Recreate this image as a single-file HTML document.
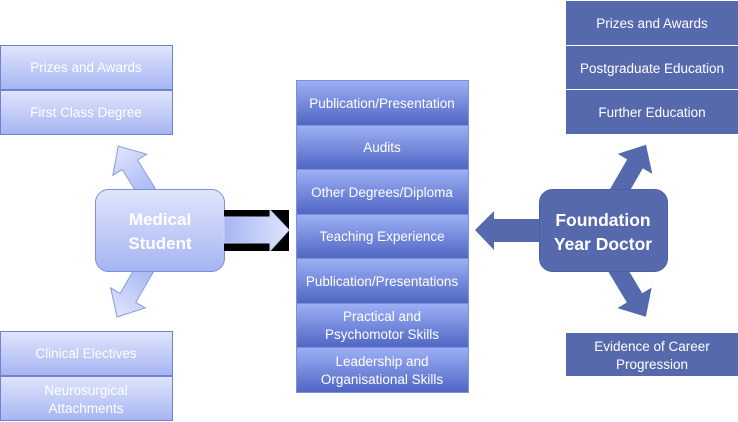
<!DOCTYPE html>
<html><head><style>
body{margin:0;background:#fff}
svg{display:block;font-family:"Liberation Sans",sans-serif}
</style></head><body>
<svg width="738" height="422" viewBox="0 0 738 422" xmlns="http://www.w3.org/2000/svg">
<defs>
<linearGradient id="lg" x1="0" y1="0" x2="0" y2="1"><stop offset="0" stop-color="#e0e5fc"/><stop offset="1" stop-color="#a6b5f3"/></linearGradient>
<linearGradient id="mg" x1="0" y1="0" x2="0" y2="1"><stop offset="0" stop-color="#9db0f6"/><stop offset="1" stop-color="#4f66c3"/></linearGradient>
<linearGradient id="ag" x1="0" y1="0" x2="1" y2="0"><stop offset="0" stop-color="#a6b5f3"/><stop offset="1" stop-color="#dfe5fc"/></linearGradient>
</defs>
<g stroke="#6f83d0" stroke-width="1" fill="url(#lg)">
<rect x="0.5" y="45.5" width="172" height="44"/>
<rect x="0.5" y="90.5" width="172" height="44"/>
<rect x="0.5" y="331.5" width="172" height="44"/>
<rect x="0.5" y="376.5" width="172" height="44"/>
</g>
<g fill="#fff" font-size="13.5" text-anchor="middle">
<text x="86" y="72">Prizes and Awards</text>
<text x="86" y="117">First Class Degree</text>
<text x="86" y="358">Clinical Electives</text>
<text x="86" y="395">Neurosurgical</text>
<text x="86" y="413">Attachments</text>
</g>
<g fill="url(#ag)" stroke="#8a9be0" stroke-width="1">
<polygon transform="translate(150,197) rotate(-122)" points="0,-9 38,-9 38,-20 60,0 38,20 38,9 0,9"/>
<polygon transform="translate(147,265) rotate(120)" points="0,-9 38,-9 38,-20 60,0 38,20 38,9 0,9"/>
</g>
<rect x="95.5" y="189.5" width="129" height="82" rx="13" fill="url(#lg)" stroke="#7d90d8"/>
<g fill="#fff" font-size="17" font-weight="bold" text-anchor="middle">
<text x="160" y="225">Medical</text>
<text x="160" y="249">Student</text>
</g>
<rect x="224" y="210" width="65" height="41" fill="#000"/>
<polygon points="224,217 270,217 270,210 289,230 270,251 270,243 224,243" fill="url(#ag)" stroke="#c8d2f8"/>
<g stroke="#7d90d8" fill="url(#mg)">
<rect x="296.5" y="80.5" width="172" height="45"/>
<rect x="296.5" y="125.5" width="172" height="44"/>
<rect x="296.5" y="169.5" width="172" height="45"/>
<rect x="296.5" y="214.5" width="172" height="44"/>
<rect x="296.5" y="258.5" width="172" height="45"/>
<rect x="296.5" y="303.5" width="172" height="44"/>
<rect x="296.5" y="347.5" width="172" height="45"/>
</g>
<g fill="#fff" font-size="13.5" text-anchor="middle">
<text x="382" y="108">Publication/Presentation</text>
<text x="382" y="152">Audits</text>
<text x="382" y="197">Other Degrees/Diploma</text>
<text x="382" y="241">Teaching Experience</text>
<text x="382" y="286">Publication/Presentations</text>
<text x="382" y="321">Practical and</text>
<text x="382" y="339">Psychomotor Skills</text>
<text x="382" y="366">Leadership and</text>
<text x="382" y="384">Organisational Skills</text>
</g>
<g fill="#5669ad">
<polygon points="475,230 494,211 494,219 542,219 542,242 494,242 494,250"/>
<polygon transform="translate(617,195) rotate(-60)" points="0,-9 36,-9 36,-20 58,0 36,20 36,9 0,9"/>
<polygon transform="translate(616,267) rotate(59)" points="0,-9 36,-9 36,-20 58,0 36,20 36,9 0,9"/>
<rect x="539.5" y="189.5" width="128" height="82" rx="13" stroke="#4d5fa0"/>
<rect x="566" y="1" width="172" height="44"/>
<rect x="566" y="46" width="172" height="43"/>
<rect x="566" y="90" width="172" height="44"/>
<rect x="566" y="333" width="172" height="43"/>
</g>
<g fill="#fff" font-size="17.5" font-weight="bold" text-anchor="middle">
<text x="603" y="226">Foundation</text>
<text x="603" y="250">Year Doctor</text>
</g>
<g fill="#fff" font-size="13.5" text-anchor="middle">
<text x="652" y="28">Prizes and Awards</text>
<text x="652" y="73">Postgraduate Education</text>
<text x="652" y="117">Further Education</text>
<text x="652" y="351">Evidence of Career</text>
<text x="652" y="369">Progression</text>
</g>
</svg>
</body></html>
